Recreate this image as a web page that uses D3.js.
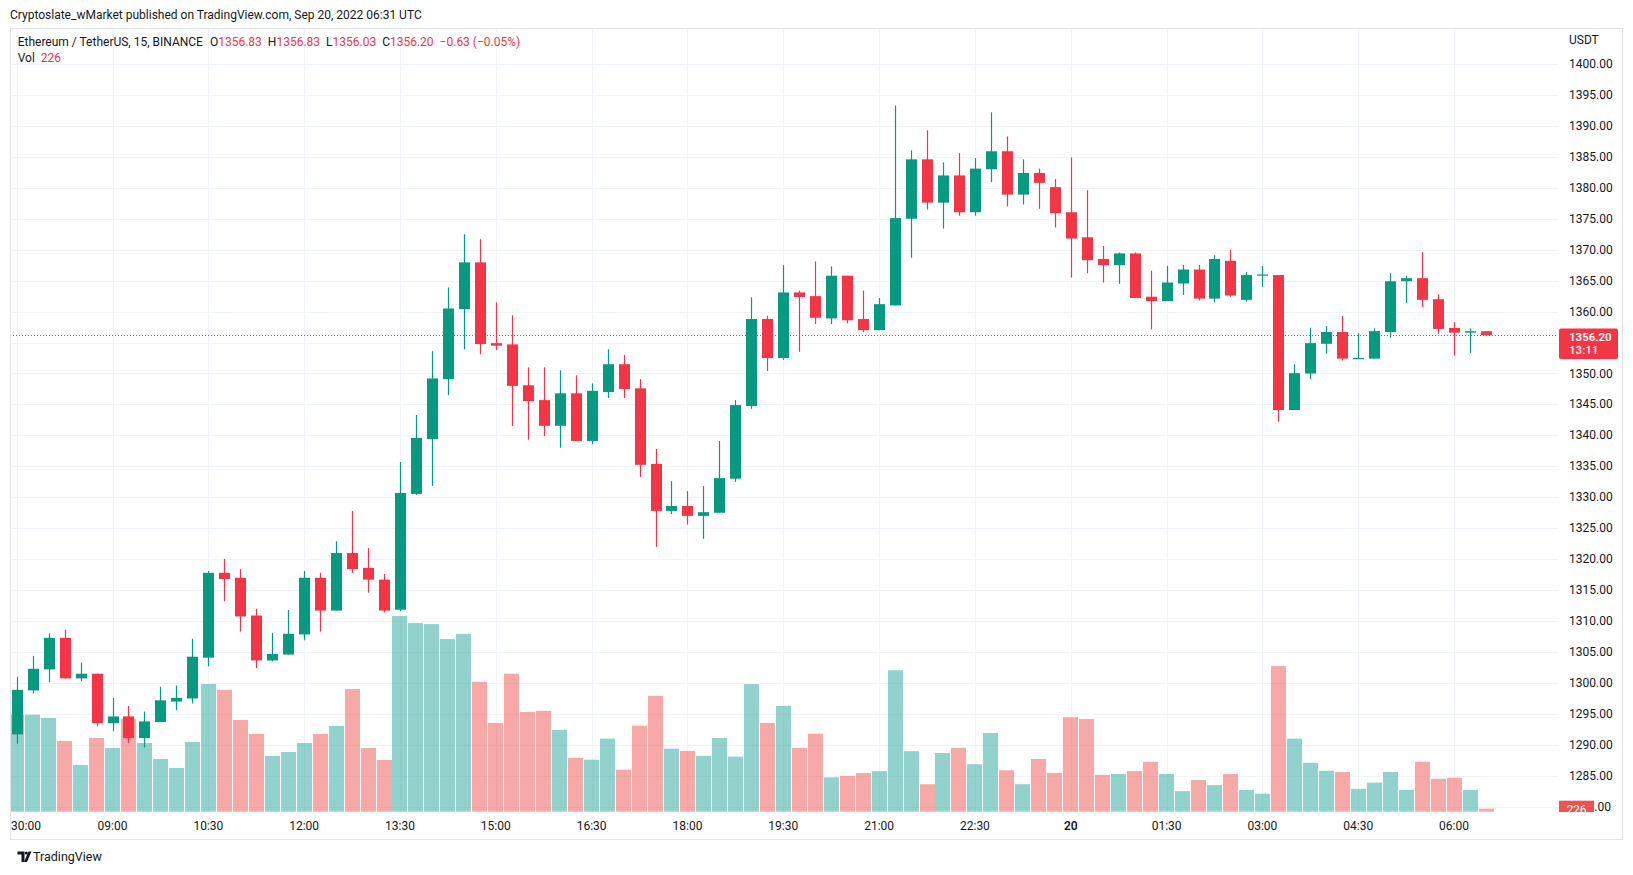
<!DOCTYPE html>
<html><head><meta charset="utf-8">
<script src="https://cdn.jsdelivr.net/npm/d3@7"></script>
<style>
html,body{margin:0;padding:0;background:#fff;}
svg{display:block;font-family:Roboto,"Noto Sans",sans-serif;}
</style></head>
<body><svg id="c" width="1633" height="875"></svg>
<script>
// ---------- DATA ----------
const startTime = "2022-09-19T07:30:00Z";
const intervalMinutes = 15;
const opens = [1291.7,1298.8,1302.2,1307.3,1300.75,1301.5,1293.5,1294.6,1291.1,1293.7,1297.0,1297.5,1304.1,1317.8,1317.0,1310.9,1303.65,1304.6,1307.85,1317.0,1311.7,1321.0,1318.6,1316.7,1311.85,1330.55,1339.4,1349.1,1360.4,1367.95,1354.9,1354.7,1348.1,1345.7,1341.55,1346.8,1339.1,1347.0,1351.5,1347.6,1335.4,1327.8,1328.6,1327.0,1327.5,1333.0,1344.75,1358.8,1352.5,1363.1,1362.5,1358.9,1365.8,1358.8,1357.0,1361.0,1375.0,1384.6,1377.6,1382.0,1376.05,1383.0,1385.9,1378.9,1382.4,1380.1,1376.05,1372.0,1368.5,1367.5,1369.4,1362.4,1361.7,1364.55,1366.8,1362.1,1368.2,1361.9,1365.8,1365.9,1344.1,1350.0,1354.8,1356.7,1352.45,1352.4,1356.7,1364.9,1365.4,1362.0,1357.35,1356.6,1356.83];
const highs = [1301.0,1304.4,1308.0,1308.6,1303.3,1301.5,1297.6,1296.3,1295.4,1299.4,1299.6,1307.15,1318.1,1320.05,1318.4,1312.0,1308.1,1311.8,1318.1,1317.8,1322.9,1327.8,1321.8,1317.6,1335.7,1343.3,1353.6,1363.9,1372.5,1371.7,1361.5,1359.4,1351.0,1351.0,1350.5,1349.7,1348.4,1353.9,1353.0,1349.1,1337.8,1332.6,1331.0,1331.8,1339.1,1345.7,1362.3,1359.3,1367.5,1363.4,1368.1,1367.3,1365.8,1363.4,1362.2,1393.3,1386.05,1389.3,1384.1,1385.6,1384.8,1392.2,1388.3,1384.6,1383.1,1381.4,1384.9,1379.6,1370.6,1369.55,1369.55,1366.6,1367.4,1367.55,1367.55,1369.1,1370.0,1366.4,1367.35,1365.9,1351.5,1357.4,1357.65,1359.3,1356.5,1357.3,1366.2,1365.8,1369.6,1362.8,1358.3,1357.3,1356.83];
const lows = [1290.2,1298.3,1300.1,1300.7,1300.3,1293.0,1292.2,1290.3,1289.6,1293.7,1295.6,1296.7,1302.7,1313.2,1308.3,1302.4,1303.5,1304.6,1306.9,1308.3,1311.7,1317.8,1314.6,1311.4,1311.6,1330.4,1331.85,1346.5,1353.9,1353.1,1353.8,1341.5,1339.3,1339.9,1338.0,1339.1,1338.6,1346.05,1346.05,1333.3,1322.0,1327.3,1325.6,1323.3,1327.5,1332.5,1344.3,1350.4,1352.2,1353.5,1358.0,1358.0,1358.1,1356.7,1357.0,1361.0,1368.7,1376.5,1373.4,1375.5,1375.5,1380.9,1377.0,1377.3,1376.6,1373.6,1365.5,1366.2,1364.7,1364.5,1362.2,1357.1,1361.7,1362.7,1361.8,1361.5,1362.4,1361.6,1364.0,1342.2,1344.1,1349.1,1353.2,1352.1,1352.4,1352.4,1355.8,1361.4,1360.7,1356.4,1352.9,1353.3,1356.03];
const closes = [1298.9,1302.3,1307.3,1300.75,1301.5,1293.5,1294.6,1291.1,1293.8,1297.2,1297.6,1304.25,1317.8,1316.8,1310.75,1303.65,1304.7,1307.95,1317.0,1311.7,1321.0,1318.4,1316.7,1311.7,1330.7,1339.6,1349.2,1360.5,1367.95,1354.75,1354.5,1348.0,1345.55,1341.55,1346.8,1339.1,1347.2,1351.5,1347.5,1335.25,1327.8,1328.6,1327.0,1327.6,1333.1,1344.9,1358.8,1352.5,1363.1,1362.35,1359.0,1365.8,1358.6,1357.0,1361.2,1375.1,1384.6,1377.6,1382.0,1376.05,1383.1,1385.9,1378.9,1382.4,1380.8,1375.9,1371.8,1368.3,1367.5,1369.4,1362.2,1361.7,1364.7,1366.8,1362.1,1368.5,1362.6,1365.9,1366.0,1344.1,1350.05,1354.9,1356.7,1352.4,1352.5,1356.85,1364.9,1365.4,1361.9,1357.2,1356.6,1356.83,1356.20];
const volumes = [7275,7275,7030,5300,3500,5530,4780,6950,5150,3950,3280,5230,9580,9130,6880,5830,4180,4480,5150,5830,6430,9200,4780,3880,14680,14150,14070,12950,13330,9740,6650,10350,7480,7570,6140,4040,3900,5480,3150,6450,8690,4730,4560,4190,5530,4130,9570,6650,7940,4790,5850,2580,2690,2900,3040,10610,4540,2060,4400,4790,3560,5900,3110,2060,3950,2900,7090,6950,2760,2830,3040,3740,2830,1540,2380,1990,2830,1640,1350,10920,5480,3670,3070,2980,1720,2180,2980,1640,3750,2470,2550,1640,226];
const priceTicks = [1285,1290,1295,1300,1305,1310,1315,1320,1325,1330,1335,1340,1345,1350,1360,1365,1370,1375,1380,1385,1390,1395,1400];
const gridPrices = [1280,1285,1290,1295,1300,1305,1310,1315,1320,1325,1330,1335,1340,1345,1350,1355,1360,1365,1370,1375,1380,1385,1390,1395,1400];
const timeTicks = ["2022-09-19T07:30:00Z","2022-09-19T09:00:00Z","2022-09-19T10:30:00Z","2022-09-19T12:00:00Z","2022-09-19T13:30:00Z","2022-09-19T15:00:00Z","2022-09-19T16:30:00Z","2022-09-19T18:00:00Z","2022-09-19T19:30:00Z","2022-09-19T21:00:00Z","2022-09-19T22:30:00Z","2022-09-20T00:00:00Z","2022-09-20T01:30:00Z","2022-09-20T03:00:00Z","2022-09-20T04:30:00Z","2022-09-20T06:00:00Z"];
const timeTickLabels = ["30:00","09:00","10:30","12:00","13:30","15:00","16:30","18:00","19:30","21:00","22:30","20","01:30","03:00","04:30","06:00"];
const lastPrice = 1356.20;
const lastVolume = 226;
const countdown = "13:11";
const headerText = "Cryptoslate_wMarket published on TradingView.com, Sep 20, 2022 06:31 UTC";

// ---------- BUILD ----------
const t0 = new Date(startTime).getTime();
const bars = opens.map((o,i)=>({t:new Date(t0+i*intervalMinutes*60000),o,h:highs[i],l:lows[i],c:closes[i],v:volumes[i]}));

const UP="#089981", DOWN="#f23645", VUP="rgba(38,166,154,0.5)", VDOWN="rgba(239,83,80,0.5)";
const TXT="#131722", GRID="#f0f3fa", BORDER="#e0e3eb";
const paneL=10, paneR=1558, paneT=28, paneB=812, axisR=1622, frameB=839;

const svg=d3.select("#c");
const x=d3.scaleTime().domain([bars[0].t,bars[bars.length-1].t]).range([16.7,1486]);
const y=d3.scaleLinear().domain([1280,1400]).range([806.8,64]);
const yv=d3.scaleLinear().domain([0,20000]).range([811.7,811.7-20000/75]);

svg.append("text").attr("x",10).attr("y",14.6).attr("dominant-baseline","central")
  .attr("font-size",12).attr("fill",TXT).text(headerText);

const defs=svg.append("defs");
defs.append("clipPath").attr("id","pane").append("rect")
  .attr("x",paneL).attr("y",paneT).attr("width",paneR-paneL).attr("height",paneB-paneT);
defs.append("clipPath").attr("id","axisclip").append("rect")
  .attr("x",paneR).attr("y",paneT).attr("width",axisR-paneR).attr("height",paneB-paneT);

const g=svg.append("g").attr("clip-path","url(#pane)");
g.selectAll("line.hg").data(gridPrices).join("line")
  .attr("x1",paneL).attr("x2",paneR).attr("y1",d=>Math.round(y(d))+0.5).attr("y2",d=>Math.round(y(d))+0.5)
  .attr("stroke",GRID).attr("stroke-width",1);
g.selectAll("line.vg").data(timeTicks).join("line")
  .attr("y1",paneT).attr("y2",paneB).attr("x1",d=>Math.round(x(new Date(d)))+0.5).attr("x2",d=>Math.round(x(new Date(d)))+0.5)
  .attr("stroke",GRID).attr("stroke-width",1);

const vw=15;
g.selectAll("rect.v").data(bars).join("rect")
  .attr("x",d=>Math.round(x(d.t)-vw/2)).attr("width",vw)
  .attr("y",d=>yv(d.v)).attr("height",d=>yv(0)-yv(d.v))
  .attr("fill",d=>d.c>=d.o?VUP:VDOWN);

g.append("line").attr("x1",paneL).attr("x2",paneR)
  .attr("y1",Math.round(y(lastPrice))+0.5).attr("y2",Math.round(y(lastPrice))+0.5)
  .attr("stroke",DOWN).attr("stroke-width",1).attr("stroke-dasharray","1 2");

const bw=11;
const cg=g.selectAll("g.c").data(bars).join("g");
cg.append("line")
  .attr("x1",d=>Math.round(x(d.t))+0.5).attr("x2",d=>Math.round(x(d.t))+0.5)
  .attr("y1",d=>y(d.h)).attr("y2",d=>y(d.l))
  .attr("stroke",d=>d.c>=d.o?UP:DOWN).attr("stroke-width",1.2);
cg.append("rect")
  .attr("x",d=>Math.round(x(d.t))+0.5-bw/2).attr("width",bw)
  .attr("y",d=>y(Math.max(d.o,d.c))).attr("height",d=>Math.max(1.2,Math.abs(y(d.o)-y(d.c))))
  .attr("fill",d=>d.c>=d.o?UP:DOWN);

svg.append("rect").attr("x",paneL+0.5).attr("y",paneT+0.5).attr("width",axisR-paneL).attr("height",frameB-paneT)
  .attr("fill","none").attr("stroke",BORDER).attr("stroke-width",1);

// legend
const lg=svg.append("text").attr("x",17.7).attr("y",41.7).attr("dominant-baseline","central").attr("font-size",12).attr("fill",TXT);
lg.append("tspan").text("Ethereum / TetherUS, 15, BINANCE");
const legendVals=[["O",opens[92]],["H",highs[92]],["L",lows[92]],["C",closes[92]]];
legendVals.forEach((p,k)=>{
  lg.append("tspan").attr("dx",k===0?7:6).attr("fill",TXT).text(p[0]);
  lg.append("tspan").attr("fill",DOWN).text(p[1].toFixed(2));
});
const chg=closes[92]-opens[92];
lg.append("tspan").attr("dx",6).attr("fill",DOWN).text("\u2212"+Math.abs(chg).toFixed(2)+" (\u2212"+Math.abs(chg/opens[92]*100).toFixed(2)+"%)");
const lv=svg.append("text").attr("x",17.7).attr("y",58.3).attr("dominant-baseline","central").attr("font-size",12).attr("fill",TXT);
lv.append("tspan").text("Vol");
lv.append("tspan").attr("dx",6).attr("fill",DOWN).text(lastVolume);

// price axis
svg.append("text").attr("x",1569).attr("y",40).attr("dominant-baseline","central").attr("font-size",12).attr("fill",TXT).text("USDT");
svg.selectAll("text.p").data(priceTicks).join("text")
  .attr("x",1569).attr("y",d=>y(d)).attr("dominant-baseline","central").attr("font-size",12).attr("fill",TXT)
  .text(d=>d.toFixed(2));
// lowest tick partly hidden by the volume tag: only its decimals show
svg.append("text").attr("x",1611).attr("y",y(1280)).attr("text-anchor","end").attr("dominant-baseline","central")
  .attr("font-size",12).attr("fill",TXT).text(".00");

const ty=y(lastPrice);
svg.append("rect").attr("x",1559).attr("y",ty-6.5).attr("width",59).attr("height",30.5).attr("rx",2).attr("fill",DOWN);
svg.append("text").attr("x",1569).attr("y",ty+1.8).attr("dominant-baseline","central").attr("font-size",11.5).attr("font-weight",600).attr("fill","#fff").text(lastPrice.toFixed(2));
svg.append("text").attr("x",1569).attr("y",ty+15.3).attr("dominant-baseline","central").attr("font-size",11.5).attr("font-weight",600).attr("fill","#fff").attr("fill-opacity",0.9).text(countdown);

const ag=svg.append("g").attr("clip-path","url(#axisclip)");
const vy=yv(lastVolume);
ag.append("rect").attr("x",1559).attr("y",vy-8).attr("width",35).attr("height",17).attr("fill","#ef5350");
ag.append("text").attr("x",1576.5).attr("y",vy+1).attr("text-anchor","middle").attr("dominant-baseline","central").attr("font-size",12).attr("fill","#fff").text(lastVolume);

// time axis
svg.selectAll("text.t").data(timeTicks).join("text")
  .attr("x",(d,i)=>i===0?11:x(new Date(d)))
  .attr("text-anchor",(d,i)=>i===0?"start":"middle")
  .attr("y",825.7).attr("dominant-baseline","central").attr("font-size",12)
  .attr("font-weight",(d,i)=>timeTickLabels[i]==="20"?600:400)
  .attr("fill",TXT).text((d,i)=>timeTickLabels[i]);

// TradingView logo
const logo=svg.append("g").attr("fill","#131722");
logo.append("path").attr("d","M17.5 851.5 H24.5 V862 H21.5 V854.5 H17.5 Z");
logo.append("circle").attr("cx",26.3).attr("cy",853).attr("r",1.6);
logo.append("path").attr("d","M28.5 851.5 H31.5 L27 862 H24 Z");
svg.append("text").attr("x",33).attr("y",856.5).attr("dominant-baseline","central").attr("font-size",12.5).attr("fill",TXT).text("TradingView");
</script></body></html>
